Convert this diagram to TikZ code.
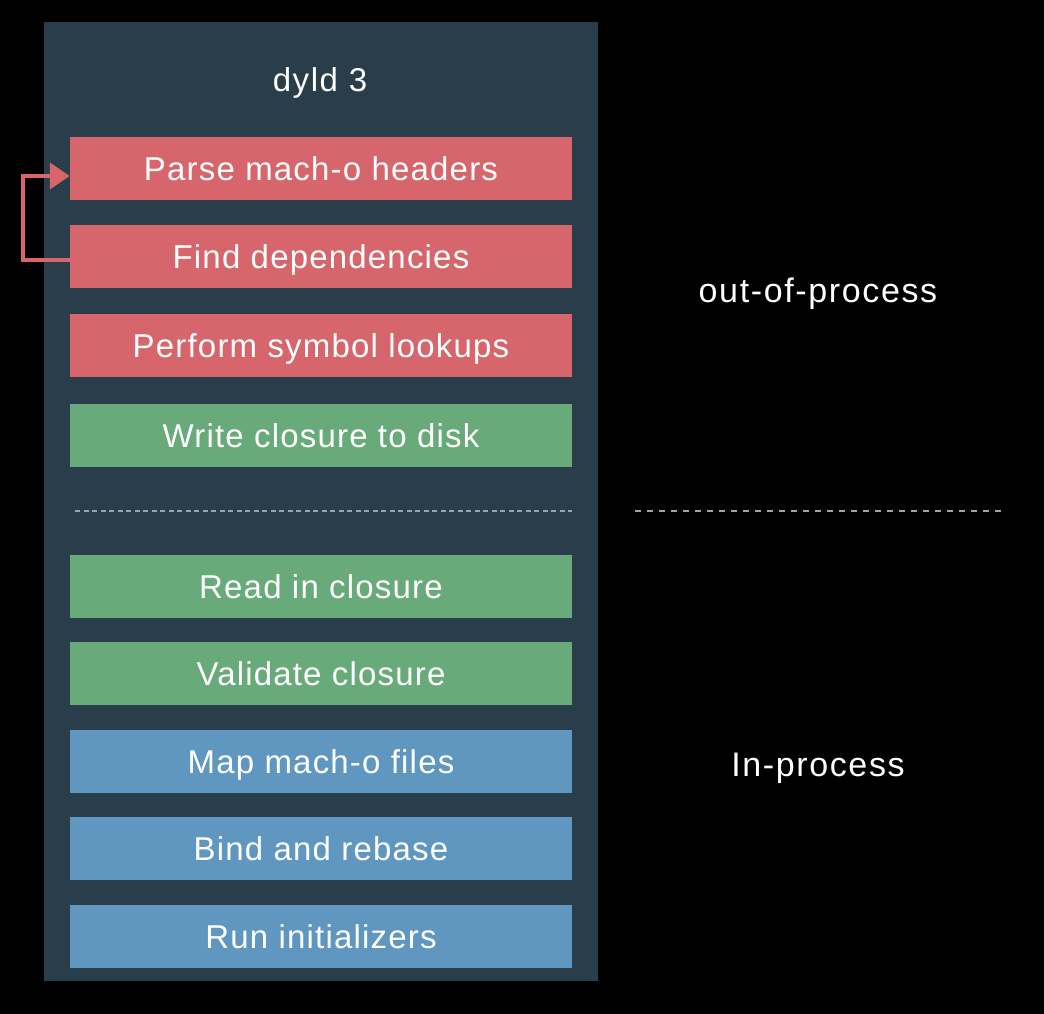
\documentclass[tikz,border=0pt]{standalone}
\usepackage{fontspec}
\setmainfont{Liberation Sans}
\newfontfamily\trackfont[LetterSpace=3.6]{Liberation Sans}
\newfontfamily\widetrackfont[LetterSpace=4.8]{Liberation Sans}
\usetikzlibrary{arrows.meta}
\definecolor{panel}{HTML}{293D4B}
\definecolor{redbox}{HTML}{D6666C}
\definecolor{greenbox}{HTML}{69AA7A}
\definecolor{bluebox}{HTML}{5F97C0}
\definecolor{dashc}{HTML}{9AA4AC}
\tikzset{
  stepbox/.style={minimum width=502pt, minimum height=63pt, inner sep=0pt, text height=24pt, text depth=0pt, text=white, font=\trackfont\fontsize{33}{38}\selectfont, anchor=center},
  rbox/.style={stepbox, fill=redbox},
  gbox/.style={stepbox, fill=greenbox},
  bbox/.style={stepbox, fill=bluebox},
  lbl/.style={text=white, inner sep=0pt, text height=24pt, text depth=0pt, font=\widetrackfont\fontsize{34}{40}\selectfont},
  sep/.style={dashc, line width=1.5pt, dash pattern=on 5pt off 3.5pt},
  sepout/.style={dashc, line width=1.5pt, dash pattern=on 6pt off 6pt},
}
\begin{document}
\begin{tikzpicture}[x=1pt,y=-1pt]
\useasboundingbox (0,0) rectangle (1044,1014);
\fill[black] (0,0) rectangle (1044,1014);
\fill[panel] (44,22) rectangle (598,981);
\node[lbl, font=\widetrackfont\fontsize{33}{38}\selectfont] (title) at (320,80) {dyld 3};
\node[rbox] (b1) at (321,168.5) {Parse mach-o headers};
\node[rbox] (b2) at (321,256.5) {Find dependencies};
\node[rbox] (b3) at (321,345.5) {Perform symbol lookups};
\node[gbox] (b4) at (321,435.5) {Write closure to disk};
\node[gbox] (b5) at (321,586.5) {Read in closure};
\node[gbox] (b6) at (321,673.5) {Validate closure};
\node[bbox] (b7) at (321,761.5) {Map mach-o files};
\node[bbox] (b8) at (321,848.5) {Bind and rebase};
\node[bbox] (b9) at (321,936.5) {Run initializers};
\coordinate (d1) at (75,511);
\coordinate (d2) at (572,511);
\coordinate (d3) at (635,511);
\coordinate (d4) at (1001,511);
\draw[sep] (d1) -- (d2);
\draw[sepout] (d3) -- (d4);
\node[lbl] (oop) at (818,290) {out-of-process};
\node[lbl] (inp) at (818,764) {In-process};
\coordinate (c1) at (23,260);
\coordinate (c2) at (23,176);
\draw[redbox, line width=4pt, -{Triangle[length=20pt,width=26pt]}] (b2.west |- c1) -- (c1) -- (c2) -- (b1.west |- c2);
\end{tikzpicture}
\end{document}
